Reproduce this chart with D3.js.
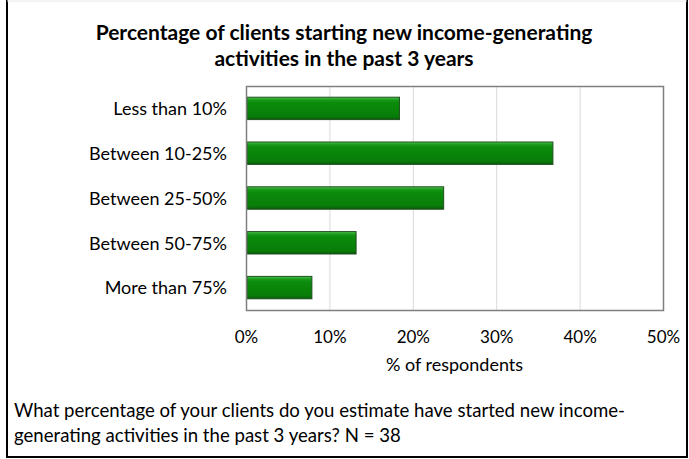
<!DOCTYPE html>
<html>
<head>
<meta charset="utf-8">
<script src="https://cdn.jsdelivr.net/npm/d3@7/dist/d3.min.js"></script>
<style>
  html, body { margin: 0; padding: 0; background: #fff; }
  svg { display: block; }
  text { font-family: Lato, "Open Sans", sans-serif; fill: #000; }
</style>
</head>
<body>
<script>
// ---- data ----
const categories = ["Less than 10%", "Between 10-25%", "Between 25-50%", "Between 50-75%", "More than 75%"];
const values = [18.4, 36.8, 23.7, 13.2, 7.9];
const tickValues = [0, 10, 20, 30, 40, 50];
const titleLines = ["Percentage of clients starting new income-generating", "activities in the past 3 years"];
const xAxisTitle = "% of respondents";
const noteLines = ["What percentage of your clients do you estimate have started new income-", "generating activities in the past 3 years? N = 38"];

const W = 689, H = 459;
const plot = { left: 246, right: 663, top: 86, bottom: 310 };

const svg = d3.select("body").append("svg").attr("width", W).attr("height", H);

// outer frame (left, bottom, right)
svg.append("path")
  .attr("d", `M7,-2 L7,457 L687,457 L687,-2`)
  .attr("fill", "none").attr("stroke", "#000").attr("stroke-width", 2);
svg.append("line").attr("x1", 7).attr("x2", 687).attr("y1", 1).attr("y2", 1)
  .attr("stroke", "#e8e8e8").attr("stroke-width", 1);

const x = d3.scaleLinear().domain([0, 50]).range([plot.left, plot.right]);
const y = d3.scaleBand().domain(categories).range([plot.top, plot.bottom]).paddingInner(0.5).paddingOuter(0.25);

// gradient for bars
const defs = svg.append("defs");
const g = defs.append("linearGradient").attr("id", "barGrad").attr("x1", 0).attr("x2", 0).attr("y1", 0).attr("y2", 1);
g.append("stop").attr("offset", "0%").attr("stop-color", "#4cc44c");
g.append("stop").attr("offset", "12%").attr("stop-color", "#1a9a1a");
g.append("stop").attr("offset", "25%").attr("stop-color", "#0b8b0b");
g.append("stop").attr("offset", "85%").attr("stop-color", "#087d08");
g.append("stop").attr("offset", "100%").attr("stop-color", "#0b5a0b");

// gridlines
svg.append("g")
  .selectAll("line").data(tickValues.slice(1, -1)).join("line")
  .attr("x1", d => x(d) + 0.5).attr("x2", d => x(d) + 0.5)
  .attr("y1", plot.top).attr("y2", plot.bottom)
  .attr("stroke", "#d9d9d9").attr("stroke-width", 1);

// bars
svg.append("g")
  .selectAll("rect").data(categories).join("rect")
  .attr("x", x(0) + 1)
  .attr("y", d => y(d))
  .attr("width", (d, i) => x(values[i]) - x(0) - 1)
  .attr("height", y.bandwidth())
  .attr("fill", "url(#barGrad)")
  .attr("stroke", "#1f4f1f").attr("stroke-width", 1);

// plot border
svg.append("rect")
  .attr("x", plot.left + 0.5).attr("y", plot.top + 0.5)
  .attr("width", plot.right - plot.left).attr("height", plot.bottom - plot.top)
  .attr("fill", "none").attr("stroke", "#7f7f7f").attr("stroke-width", 1.5);

// x axis labels
const xAxis = d3.axisBottom(x).tickValues(tickValues).tickFormat(d => d + "%").tickSize(0).tickPadding(21);
const gx = svg.append("g").attr("transform", `translate(0,${plot.bottom})`).call(xAxis);
gx.select(".domain").remove();
gx.selectAll("text").style("font-family", "Lato, sans-serif").style("font-size", "17px").attr("fill", "#000");

// y axis labels
const yAxis = d3.axisLeft(y).tickSize(0).tickPadding(19);
const gy = svg.append("g").attr("transform", `translate(${plot.left},1)`).call(yAxis);
gy.select(".domain").remove();
gy.selectAll("text").style("font-family", "Lato, sans-serif").style("font-size", "18px").attr("fill", "#000");

// axis title
svg.append("text").attr("x", (plot.left + plot.right) / 2).attr("y", 371)
  .attr("text-anchor", "middle").style("font-size", "18px").text(xAxisTitle);

// title
svg.append("g").selectAll("text").data(titleLines).join("text")
  .attr("x", 344).attr("y", (d, i) => 40 + i * 26)
  .attr("text-anchor", "middle").style("font-size", "21px").style("font-weight", "bold")
  .text(d => d);

// note
svg.append("g").selectAll("text").data(noteLines).join("text")
  .attr("x", 14).attr("y", (d, i) => 417 + i * 25)
  .style("font-size", "18.6px")
  .text(d => d);
</script>
</body>
</html>
